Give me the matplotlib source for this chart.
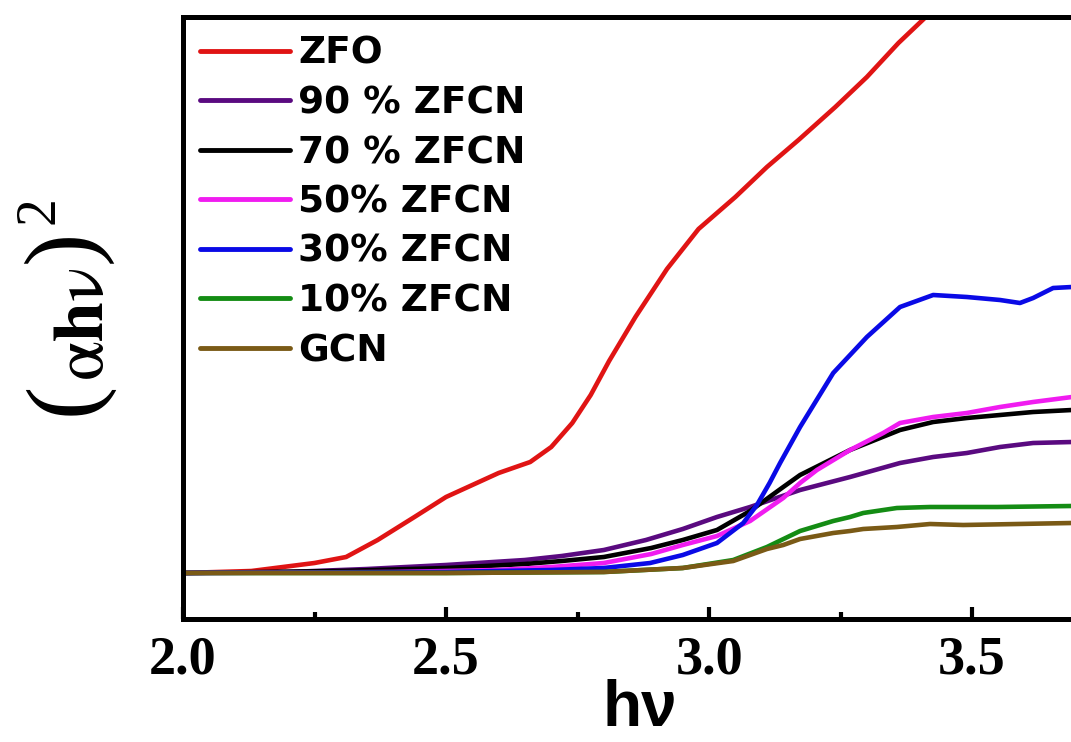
import matplotlib
matplotlib.use("Agg")
import matplotlib.pyplot as plt
from matplotlib.ticker import MultipleLocator

plt.rcParams["mathtext.fontset"] = "stix"

# ---- data (photon energy hv in eV, (alpha h nu)^2 in arbitrary units) ----
labels = ["ZFO", "90 % ZFCN", "70 % ZFCN", "50% ZFCN", "30% ZFCN", "10% ZFCN", "GCN"]
colors = ["#e01414", "#5a0a80", "#000000", "#f01cf0", "#0a0ae6", "#148c14", "#7a5a16"]

zfo_x = [2.00, 2.13, 2.25, 2.31, 2.37, 2.44, 2.50, 2.60, 2.66, 2.70, 2.74, 2.775,
         2.81, 2.86, 2.92, 2.98, 3.05, 3.11, 3.17, 3.24, 3.30, 3.36, 3.41, 3.46]
zfo_y = [0, 2, 10, 16, 33, 56, 76, 100, 111, 126, 150, 178,
         212, 256, 304, 344, 376, 406, 433, 466, 496, 530, 555, 590]

zfcn90_x = [2.00, 2.20, 2.35, 2.50, 2.65, 2.72, 2.80, 2.88, 2.95, 3.015, 3.078,
            3.173, 3.268, 3.363, 3.426, 3.49, 3.553, 3.616, 3.69]
zfcn90_y = [0, 1, 4, 8, 13, 17, 23, 33, 44, 56, 66,
            83, 96, 110, 116, 120, 126, 130, 131]

zfcn70_x = [2.00, 2.30, 2.50, 2.65, 2.72, 2.80, 2.89, 2.95, 3.015, 3.078, 3.141,
            3.173, 3.268, 3.363, 3.426, 3.49, 3.553, 3.616, 3.69]
zfcn70_y = [0, 2, 5, 9, 12, 16, 25, 33, 43, 62, 86,
            98, 123, 143, 151, 155, 158, 161, 163]

zfcn50_x = [2.00, 2.40, 2.60, 2.70, 2.80, 2.89, 2.95, 3.015, 3.078, 3.141, 3.173,
            3.205, 3.268, 3.331, 3.363, 3.426, 3.49, 3.553, 3.616, 3.69]
zfcn50_y = [0, 1, 3, 6, 10, 19, 28, 37, 52, 75, 90,
            103, 123, 140, 150, 156, 160, 166, 171, 176]

zfcn30_x = [2.00, 2.50, 2.70, 2.80, 2.888, 2.95, 3.015, 3.065, 3.091, 3.115, 3.135,
            3.173, 3.236, 3.30, 3.363, 3.426, 3.49, 3.553, 3.591, 3.616, 3.654, 3.69]
zfcn30_y = [0, 1, 3, 5, 10, 18, 30, 50, 68, 90, 110,
            146, 200, 236, 266, 278, 276, 273, 270, 275, 285, 286]

zfcn10_x = [2.00, 2.50, 2.80, 2.95, 3.046, 3.11, 3.173, 3.236, 3.268, 3.293,
            3.357, 3.42, 3.548, 3.69]
zfcn10_y = [0, 0, 1, 5, 13, 26, 42, 52, 56, 60, 65, 66, 66, 67]

gcn_x = [2.00, 2.50, 2.80, 2.95, 3.046, 3.11, 3.141, 3.173, 3.236, 3.268, 3.293,
         3.357, 3.42, 3.483, 3.69]
gcn_y = [0, 0, 1, 5, 12, 24, 28, 34, 40, 42, 44, 46, 49, 48, 50]

series_x = [zfo_x, zfcn90_x, zfcn70_x, zfcn50_x, zfcn30_x, zfcn10_x, gcn_x]
series_y = [zfo_y, zfcn90_y, zfcn70_y, zfcn50_y, zfcn30_y, zfcn10_y, gcn_y]

xticks = [2.0, 2.5, 3.0, 3.5]
xtick_labels = ["2.0", "2.5", "3.0", "3.5"]

# ---- figure ----
W, H = 1071, 742
fig = plt.figure(figsize=(W / 100, H / 100), dpi=100)
ax = fig.add_axes([183 / W, 1 - 619 / H, (1071 - 183) / W, (619 - 17) / H])

for xs, ys, c, lab in zip(series_x, series_y, colors, labels):
    ax.plot(xs, ys, color=c, lw=3.3, label=lab, solid_capstyle="round",
            solid_joinstyle="round")

ax.set_xlim(2.0, 3.688)
ax.set_ylim(-46, 556)

for s in ["left", "bottom", "top"]:
    ax.spines[s].set_linewidth(3.6)
ax.spines["right"].set_visible(False)

ax.set_yticks([])
ax.set_xticks(xticks)
ax.set_xticklabels(xtick_labels, fontfamily="Liberation Serif", fontweight="bold",
                   fontsize=39)
ax.xaxis.set_minor_locator(MultipleLocator(0.25))
ax.tick_params(axis="x", which="major", direction="in", length=9, width=3, pad=12)
ax.tick_params(axis="x", which="minor", direction="in", length=5, width=3)

# x label
fig.text(640 / W, 1 - 726 / H, "hν", fontfamily="Liberation Sans", fontweight="bold",
         fontsize=46, ha="center", va="baseline")

# y label  (αhν)^2 built from pieces so the brackets can be taller than the letters
fig.text(67 / W, 1 - 398 / H, "(", fontfamily="Liberation Serif", fontsize=72,
         rotation=90, ha="center", va="center")
fig.text(84 / W, 1 - 324 / H, r"$\mathrm{\alpha}\mathbf{h}\mathrm{\nu}$", fontsize=52,
         rotation=90, ha="center", va="center")
fig.text(67 / W, 1 - 246 / H, ")", fontfamily="Liberation Serif", fontsize=72,
         rotation=90, ha="center", va="center")
fig.text(40 / W, 1 - 210 / H, "2", fontfamily="Liberation Serif", fontsize=40,
         rotation=90, ha="center", va="center")

leg = ax.legend(loc="upper left", bbox_to_anchor=(200 / W, 1 - 36 / H),
                bbox_transform=fig.transFigure, frameon=False,
                prop={"family": "DejaVu Sans", "weight": "bold", "size": 27},
                handlelength=2.4, handletextpad=0.21, labelspacing=0.36,
                borderpad=0, borderaxespad=0)
for l in leg.get_lines():
    l.set_linewidth(3.5)

fig.savefig("out.png", dpi=100)
